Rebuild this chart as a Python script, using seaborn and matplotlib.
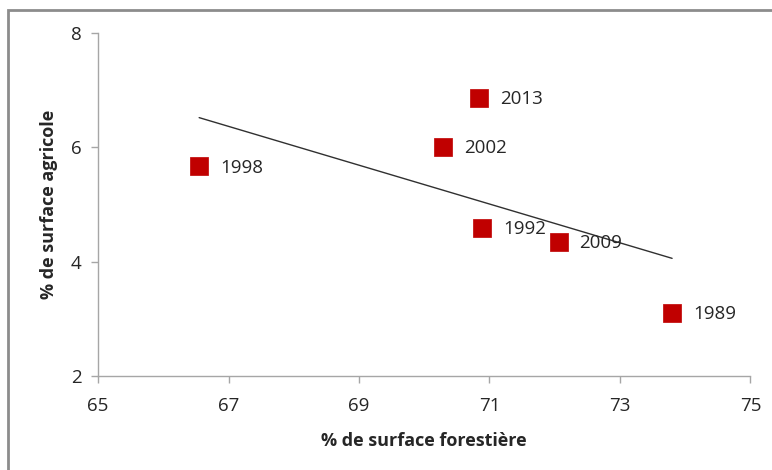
import numpy as np
import pandas as pd
import seaborn as sns
import matplotlib.pyplot as plt
from matplotlib.patches import Rectangle

# data
years = ["1989", "1992", "1998", "2002", "2009", "2013"]
forest = [73.80, 70.89, 66.55, 70.29, 72.06, 70.84]
agri = [3.10, 4.59, 5.67, 6.01, 4.35, 6.86]

df = pd.DataFrame({"year": years, "forest": forest, "agri": agri})

sns.set_style("white")
plt.rcParams["font.family"] = ["Open Sans", "DejaVu Sans"]

fig = plt.figure(figsize=(7.72, 4.70), dpi=100)
ax = fig.add_axes([0.127, 0.200, 0.845, 0.730])

sns.scatterplot(data=df, x="forest", y="agri", marker="s", s=150,
                color="#C00000", edgecolor="#C00000", linewidth=0.5, ax=ax, zorder=3)

# linear trendline over the data range
slope, intercept = np.polyfit(df["forest"], df["agri"], 1)
xs = np.array([df["forest"].min(), df["forest"].max()])
ax.plot(xs, slope * xs + intercept, color="#303030", linewidth=1.0, zorder=2)

for _, r in df.iterrows():
    ax.annotate(r["year"], (r["forest"], r["agri"]), xytext=(15, -1),
                textcoords="offset points", va="center", ha="left",
                fontsize=13.5, color="#262626")

ax.set_xlim(65, 75)
ax.set_ylim(2, 8)
ax.set_xticks([65, 67, 69, 71, 73, 75])
ax.set_yticks([2, 4, 6, 8])
ax.set_xlabel("% de surface forestière", fontsize=13, fontweight="bold", labelpad=12)
ax.set_ylabel("% de surface agricole", fontsize=13, fontweight="bold", labelpad=9)
ax.tick_params(axis="both", labelsize=13.5, colors="#262626", length=5, width=1,
               direction="out", left=True, bottom=True)
ax.tick_params(axis="x", pad=10)
ax.tick_params(axis="y", pad=7)
ax.tick_params(axis="both", color="#a6a6a6")

# hide borders
ax.spines["right"].set_visible(False)
ax.spines["top"].set_visible(False)
for s in ["left", "bottom"]:
    ax.spines[s].set_color("#a6a6a6")
    ax.spines[s].set_linewidth(1)

# outer chart frame
fig.patches.append(Rectangle((8 / 772, -0.1), 1.2, 1.1 - 10 / 470, transform=fig.transFigure,
                             fill=False, edgecolor="#8c8c8c", linewidth=2))

fig.savefig("out.png", dpi=100)
